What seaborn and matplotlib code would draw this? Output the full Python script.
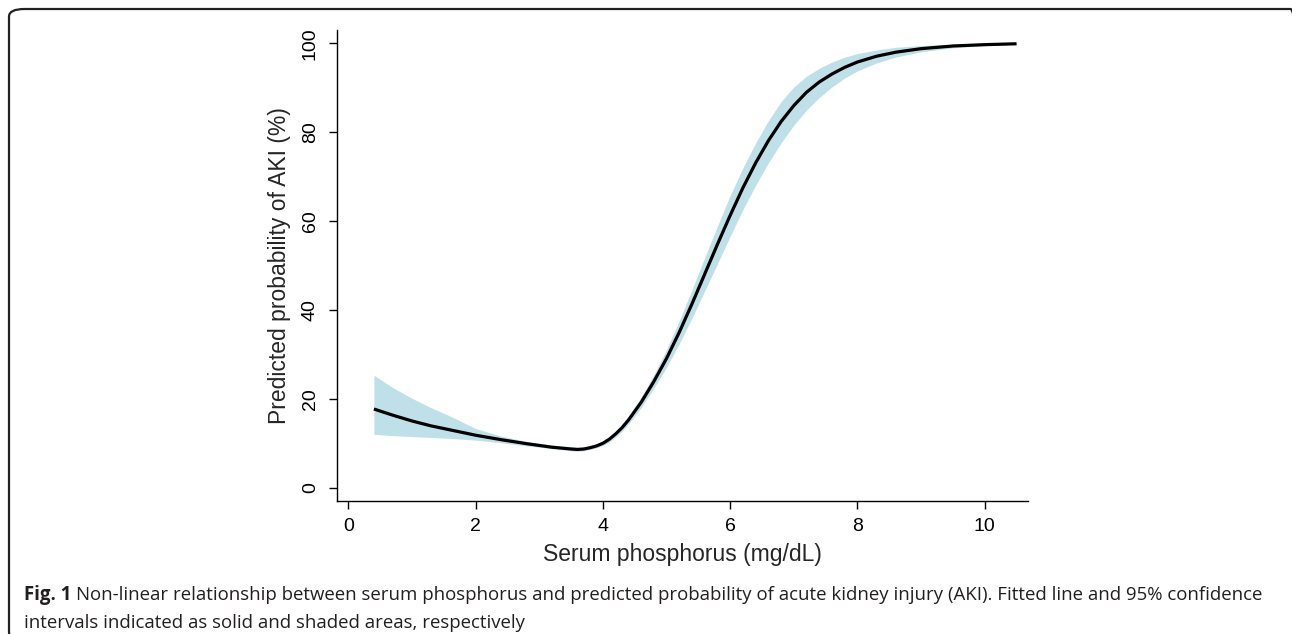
import matplotlib
matplotlib.use("Agg")
import matplotlib.pyplot as plt
import seaborn as sns
import pandas as pd
from matplotlib.patches import FancyBboxPatch

# serum phosphorus (mg/dL) and predicted probability of AKI (%)
phos = [0.4, 0.7, 1.0, 1.3, 1.6, 2.0, 2.4, 2.8, 3.2, 3.5, 3.6, 3.7, 3.8, 3.9, 4.0, 4.1,
        4.2, 4.3, 4.4, 4.6, 4.8, 5.0, 5.2, 5.4, 5.6, 5.8, 6.0, 6.2, 6.4, 6.6, 6.8, 7.0,
        7.2, 7.4, 7.6, 7.8, 8.0, 8.3, 8.6, 9.0, 9.5, 10.0, 10.5]
prob = [17.7, 16.3, 15.0, 13.9, 13.0, 11.8, 10.8, 9.9, 9.1, 8.7, 8.6, 8.7, 9.0, 9.4, 10.0,
        10.9, 12.1, 13.5, 15.2, 19.2, 23.9, 29.1, 35.0, 41.4, 48.1, 54.8, 61.3, 67.5, 73.1,
        78.1, 82.4, 86.0, 89.0, 91.3, 93.1, 94.6, 95.8, 97.1, 98.0, 98.8, 99.4, 99.7, 99.9]
ci_low = [12.0, 11.7, 11.5, 11.3, 11.1, 10.7, 10.1, 9.4, 8.8, 8.3, 8.2, 8.3, 8.6, 9.0, 9.5,
          10.3, 11.4, 12.7, 14.3, 18.0, 22.4, 27.1, 32.4, 38.2, 44.3, 50.4, 56.6, 62.6, 68.1,
          73.1, 77.6, 81.6, 85.0, 87.8, 90.2, 92.2, 93.8, 95.6, 96.9, 98.1, 99.0, 99.5, 99.8]
ci_high = [25.3, 22.5, 20.1, 18.0, 16.1, 13.3, 11.6, 10.4, 9.6, 9.2, 9.1, 9.2, 9.4, 9.8, 10.5,
           11.5, 12.8, 14.3, 16.1, 20.4, 25.4, 31.1, 37.6, 44.6, 51.8, 58.9, 65.8, 72.0, 77.6,
           82.6, 86.9, 90.2, 92.6, 94.4, 95.8, 96.9, 97.7, 98.5, 99.1, 99.5, 99.8, 99.9, 100.0]

xticks = [0, 2, 4, 6, 8, 10]
yticks = [0, 20, 40, 60, 80, 100]

df = pd.DataFrame({"phos": phos, "prob": prob, "lo": ci_low, "hi": ci_high})

sns.set_style("ticks")
plt.rcParams["font.family"] = ["Liberation Sans", "DejaVu Sans"]

W, H = 1292, 634
fig = plt.figure(figsize=(W / 100, H / 100), dpi=100)
ax = fig.add_axes([337 / W, 1 - 501 / H, (1028 - 337) / W, (501 - 30) / H])

ax.fill_between(df["phos"], df["lo"], df["hi"], color="#bfe0e9", linewidth=0)
sns.lineplot(data=df, x="phos", y="prob", color="black", linewidth=2.3, ax=ax,
             solid_joinstyle="round", solid_capstyle="butt")

ax.set_xlim(-0.18, 10.68)
ax.set_ylim(-3, 103)
ax.set_xticks(xticks)
ax.set_yticks(yticks)
ax.tick_params(axis="both", direction="out", length=6, width=1, colors="black",
               labelsize=14)
ax.tick_params(axis="x", pad=6)
ax.tick_params(axis="y", pad=7)
for lab in ax.get_yticklabels():
    lab.set_rotation(90)
    lab.set_va("center")
sns.despine(ax=ax)
for s in ["left", "bottom"]:
    ax.spines[s].set_linewidth(1)
    ax.spines[s].set_color("black")

ax.set_xlabel("Serum phosphorus (mg/dL)", fontsize=16.5, labelpad=6)
ax.set_ylabel("Predicted probability of AKI (%)", fontsize=16.5, labelpad=8)

# rounded frame round the figure (right and bottom edges run off the picture)
box = FancyBboxPatch((9 / W, 1 - 640 / H), (1306 - 9) / W, (640 - 9) / H,
                     boxstyle="round,pad=0,rounding_size=0.012",
                     transform=fig.transFigure, fill=False, edgecolor="#222222",
                     linewidth=1.6, clip_on=False)
fig.patches.append(box)

# caption
cap_font = ["Open Sans", "DejaVu Sans"]
cap_size = 13.4
t1 = fig.text(24 / W, 1 - 600 / H, "Fig. 1", fontsize=cap_size, fontweight="bold",
              family=cap_font, color="#231f20")
fig.canvas.draw()
bb = t1.get_window_extent()
fig.text((bb.x1 + 5) / W, 1 - 600 / H,
         "Non-linear relationship between serum phosphorus and predicted probability of "
         "acute kidney injury (AKI). Fitted line and 95% confidence",
         fontsize=cap_size, family=cap_font, color="#231f20")
fig.text(24 / W, 1 - 628 / H, "intervals indicated as solid and shaded areas, respectively",
         fontsize=cap_size, family=cap_font, color="#231f20")

fig.savefig("out.png", dpi=100)
